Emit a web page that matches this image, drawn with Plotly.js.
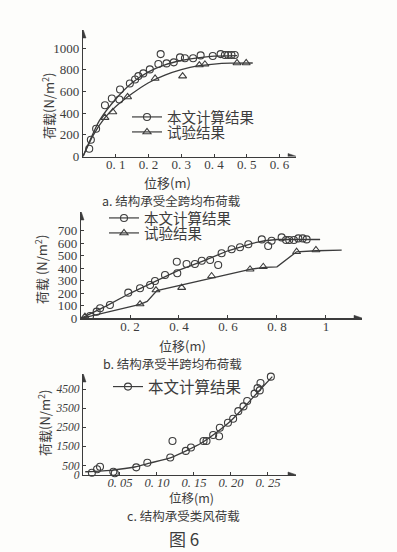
<!DOCTYPE html>
<html><head><meta charset="utf-8">
<script src="https://cdn.plot.ly/plotly-3.0.1.min.js"></script>
<style>html,body{margin:0;padding:0;background:#fdfdfb;}#c{width:397px;height:552px;}</style>
</head><body><div id="c"></div>
<script>
// ---------- chart a: full-span uniform load ----------
const aCalcX = [0.019,0.024,0.040,0.067,0.088,0.111,0.113,0.143,0.159,0.169,0.184,0.204,0.230,0.237,0.255,0.277,0.296,0.311,0.336,0.359,0.396,0.420,0.433,0.443,0.453,0.463];
const aCalcY = [71,155,256,472,534,525,618,673,710,741,766,803,852,944,858,868,914,905,905,932,926,944,935,935,935,935];
const aCalcLineX = [0,0.02,0.05,0.10,0.15,0.20,0.25,0.30,0.35,0.40,0.47];
const aCalcLineY = [0,140,330,530,680,780,845,885,910,925,930];
const aTestX = [0.067,0.091,0.136,0.220,0.304,0.355,0.372,0.470,0.498];
const aTestY = [358,410,549,719,741,843,850,862,862];
const aTestLineX = [0,0.03,0.067,0.10,0.15,0.20,0.25,0.30,0.35,0.40,0.45,0.518];
const aTestLineY = [0,190,358,460,580,680,750,800,835,852,860,862];
const aXTicks = [0.1,0.2,0.3,0.4,0.5,0.6];
const aXTickText = ['0. 1','0. 2','0. 3','0. 4','0. 5','0. 6'];
const aYTicks = [0,200,400,600,800,1000];

// ---------- chart b: half-span uniform load ----------
const bCalcX = [0.037,0.064,0.078,0.118,0.193,0.241,0.282,0.302,0.343,0.393,0.391,0.431,0.465,0.493,0.527,0.560,0.574,0.615,0.649,0.683,0.738,0.764,0.778,0.819,0.837,0.850,0.869,0.887,0.905,0.921];
const bCalcY = [18,53,80,106,205,240,266,298,346,360,452,434,434,460,466,426,520,552,568,592,631,578,620,647,626,626,626,639,639,631];
const bCalcLineX = [0,0.10,0.20,0.30,0.40,0.50,0.55,0.60,0.65,0.70,0.75,0.80,0.976];
const bCalcLineY = [0,95,200,295,385,460,500,540,570,600,620,630,630];
const bTestX = [0.016,0.241,0.306,0.411,0.533,0.690,0.744,0.880,0.959];
const bTestY = [13,114,226,245,338,392,412,532,546];
const bTestLineX = [0,0.241,0.27,0.31,0.69,0.75,0.80,0.88,0.96,1.064];
const bTestLineY = [0,112,135,222,392,408,412,532,540,545];
const bXTicks = [0.2,0.4,0.6,0.8,1];
const bXTickText = ['0. 2','0. 4','0. 6','0. 8','1'];
const bYTicks = [0,100,200,300,400,500,600,700];

// ---------- chart c: wind-like load ----------
const cCalcX = [0.012,0.019,0.023,0.041,0.043,0.072,0.087,0.118,0.121,0.139,0.146,0.163,0.167,0.176,0.184,0.185,0.196,0.203,0.210,0.217,0.222,0.232,0.236,0.239,0.240,0.254];
const cCalcY = [120,300,435,172,89,401,641,922,1787,1265,1443,1787,1787,2100,2030,2480,2740,2950,3350,3600,3880,4270,4560,4440,4830,5160];
const cCalcLineX = [0.003,0.04,0.07,0.09,0.12,0.14,0.16,0.18,0.20,0.22,0.24,0.256];
const cCalcLineY = [170,260,420,620,930,1280,1680,2220,2850,3650,4500,5160];
const cXTicks = [0.05,0.10,0.15,0.20,0.25];
const cXTickText = ['0. 05','0. 10','0. 15','0. 20','0. 25'];
const cYTicks = [0,500,1500,2500,3500,4500];

const INK = '#3c3c3c';
const SERIF = 'Liberation Serif, DejaVu Serif, serif';
const CJK = 'Noto Sans CJK SC, sans-serif';
const LEG_CALC = '本文计算结果';
const LEG_TEST = '试验结果';
const HOLLOW = 'rgba(253,253,251,0)';

function pts(x, y, xa, ya, sym) {
  return {x, y, xaxis: xa, yaxis: ya, mode: 'markers', showlegend: false, cliponaxis: false,
    marker: {symbol: sym, size: 7, color: HOLLOW, line: {color: INK, width: 1.1}}, hoverinfo: 'skip'};
}
function curve(x, y, xa, ya) {
  return {x, y, xaxis: xa, yaxis: ya, mode: 'lines', showlegend: false,
    line: {color: INK, width: 1.3, shape: 'spline', smoothing: 0.6}, hoverinfo: 'skip'};
}
function poly(x, y, xa, ya) {
  return {x, y, xaxis: xa, yaxis: ya, mode: 'lines', showlegend: false,
    line: {color: INK, width: 1.3}, hoverinfo: 'skip'};
}
function legItem(name, sym, xa, ya, leg) {
  return {x: [null], y: [null], xaxis: xa, yaxis: ya, mode: 'lines+markers', name, legend: leg,
    line: {color: INK, width: 1.2},
    marker: {symbol: sym, size: 7, color: HOLLOW, line: {color: INK, width: 1.1}}};
}

const traces = [
  curve(aCalcLineX, aCalcLineY, 'x', 'y'),
  curve(aTestLineX, aTestLineY, 'x', 'y'),
  pts(aCalcX, aCalcY, 'x', 'y', 'circle'),
  pts(aTestX, aTestY, 'x', 'y', 'triangle-up'),
  legItem(LEG_CALC, 'circle', 'x', 'y', 'legend'),
  legItem(LEG_TEST, 'triangle-up', 'x', 'y', 'legend2'),

  poly(bCalcLineX, bCalcLineY, 'x2', 'y2'),
  poly(bTestLineX, bTestLineY, 'x2', 'y2'),
  pts(bCalcX, bCalcY, 'x2', 'y2', 'circle'),
  pts(bTestX, bTestY, 'x2', 'y2', 'triangle-up'),
  legItem(LEG_CALC, 'circle', 'x2', 'y2', 'legend3'),
  legItem(LEG_TEST, 'triangle-up', 'x2', 'y2', 'legend4'),

  curve(cCalcLineX, cCalcLineY, 'x3', 'y3'),
  pts(cCalcX, cCalcY, 'x3', 'y3', 'circle'),
  legItem(LEG_CALC, 'circle', 'x3', 'y3', 'legend5')
];

const W = 397, H = 552;
const px = v => v / W;
const py = v => 1 - v / H;

function axX(dom, rng, tv, tt, font) {
  return {domain: dom, range: rng, tickvals: tv, ticktext: tt, ticks: 'inside', ticklen: 3, tickwidth: 1,
    tickcolor: INK, showline: true, linecolor: INK, linewidth: 1.2, showgrid: false, zeroline: false,
    tickfont: font, ticklabelstandoff: -4, fixedrange: true};
}
function axY(dom, rng, tv, font, anchor) {
  return {domain: dom, range: rng, tickvals: tv, ticks: 'inside', ticklen: 3, tickwidth: 1,
    tickcolor: INK, showline: true, linecolor: INK, linewidth: 1.2, showgrid: false, zeroline: false,
    tickfont: font, anchor, fixedrange: true};
}
const tf = {family: SERIF, size: 13, color: INK};
const tfi = {family: SERIF, size: 12.5, color: INK, style: 'italic'};
const tfiy = {family: SERIF, size: 11.5, color: INK, style: 'italic'};

function leg(x, y, size) {
  return {x: px(x), y: py(y), xanchor: 'left', yanchor: 'middle', bgcolor: 'rgba(0,0,0,0)',
    borderwidth: 0, font: {family: CJK, size: size, color: INK}, itemwidth: 30};
}
function arrowX(xa, ya, xmax) {
  return {type: 'path', xref: xa, yref: ya, xsizemode: 'pixel', ysizemode: 'pixel',
    xanchor: xmax, yanchor: 0, path: 'M1,0 L-8,3 L-8,-3 Z',
    fillcolor: INK, line: {color: INK, width: 0.5}};
}
function arrowY(xa, ya, ymax) {
  return {type: 'path', xref: xa, yref: ya, xsizemode: 'pixel', ysizemode: 'pixel',
    xanchor: 0, yanchor: ymax, path: 'M0,1 L-3,-8 L3,-8 Z',
    fillcolor: INK, line: {color: INK, width: 0.5}};
}
function note(text, x, y, size, angle, fam) {
  return {xref: 'paper', yref: 'paper', x: px(x), y: py(y), text, showarrow: false,
    xanchor: 'center', yanchor: 'middle', textangle: angle || 0,
    font: {family: fam || CJK, size, color: INK}};
}

const aXR = [0, 0.65], aYR = [0, 1166];
const bXR = [0, 1.147], bYR = [0, 850];
const cXR = [0, 0.288], cYR = [0, 5300];

const layout = {
  width: W, height: H, margin: {l: 0, r: 0, t: 0, b: 0},
  paper_bgcolor: '#fdfdfb', plot_bgcolor: 'rgba(0,0,0,0)',
  xaxis: axX([px(83), px(296)], aXR, aXTicks, aXTickText, tf),
  yaxis: axY([py(156.5), py(30)], aYR, aYTicks, tf, 'x'),
  xaxis2: Object.assign(axX([px(81), px(362)], bXR, bXTicks, bXTickText, tf), {anchor: 'y2'}),
  yaxis2: axY([py(318.3), py(212)], bYR, bYTicks, tf, 'x2'),
  xaxis3: Object.assign(axX([px(83), px(296)], cXR, cXTicks, cXTickText, tfi), {anchor: 'y3'}),
  yaxis3: axY([py(475), py(374)], cYR, cYTicks, tfiy, 'x3'),
  legend: leg(127, 117, 14.5),
  legend2: leg(127, 132, 14.5),
  legend3: leg(104, 218, 14.5),
  legend4: leg(104, 233, 14.5),
  legend5: leg(108, 387, 15.5),
  shapes: [
    arrowX('x', 'y', aXR[1]), arrowY('x', 'y', aYR[1]),
    arrowX('x2', 'y2', bXR[1]), arrowY('x2', 'y2', bYR[1]),
    arrowX('x3', 'y3', cXR[1]), arrowY('x3', 'y3', cYR[1])
  ],
  annotations: [
    note('荷载(N/m<sup>2</sup>)', 48, 106, 13, -90),
    note('位移(m)', 167, 182, 13),
    note('a. 结构承受全跨均布荷载', 171, 200, 12.5),
    note('荷载 (N/m<sup>2</sup>)', 41, 270, 13, -90),
    note('位移(m)', 182, 345, 13),
    note('b. 结构承受半跨均布荷载', 172, 363, 12.5),
    note('荷载(N/m<sup>2</sup>)', 44, 423, 13, -90),
    note('位移(m)', 191, 497, 12.5),
    note('c. 结构承受类风荷载', 183, 515, 12.5),
    note('图 6', 184, 538, 17)
  ]
};
Plotly.newPlot('c', traces, layout, {staticPlot: true, displayModeBar: false});
</script></body></html>
